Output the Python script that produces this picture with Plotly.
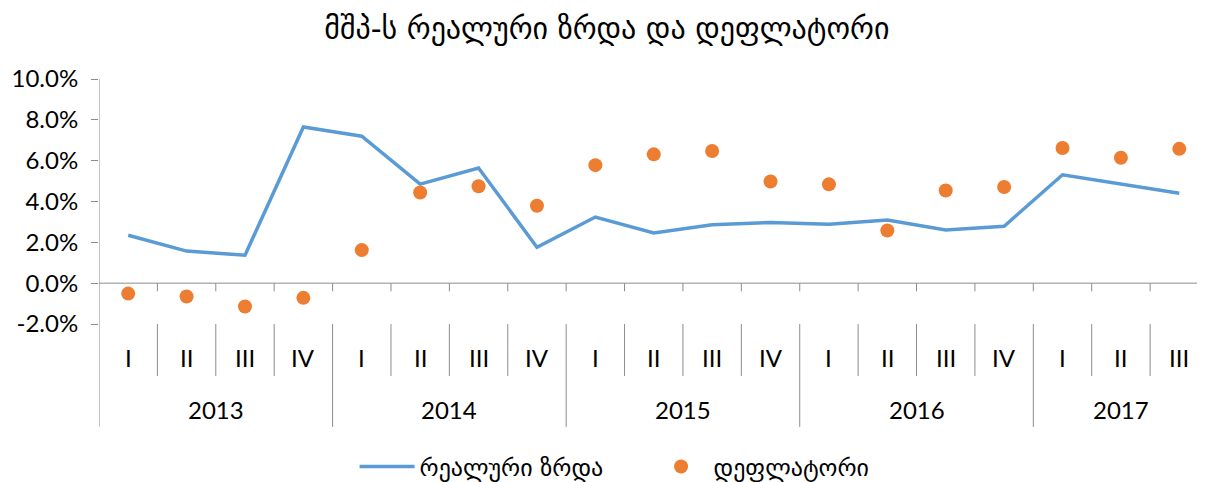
"""
მშპ-ს რეალური ზრდა და დეფლატორი - კვარტალური მონაცემები 2013-2017.
"""
import plotly.graph_objects as go

# კვარტლები და წლები (ორდონიანი კატეგორიის ღერძი)
quarters = ["I", "II", "III", "IV", "I", "II", "III", "IV", "I", "II", "III", "IV",
            "I", "II", "III", "IV", "I", "II", "III"]
years = ["2013", "2014", "2015", "2016", "2017"]
quarters_per_year = [4, 4, 4, 4, 3]

# მნიშვნელობები პროცენტებში
real_growth = [2.35, 1.57, 1.37, 7.65, 7.2, 4.85, 5.64, 1.76, 3.24, 2.46, 2.86,
               2.97, 2.89, 3.09, 2.6, 2.79, 5.31, 4.87, 4.4]
deflator = [-0.51, -0.65, -1.14, -0.72, 1.62, 4.44, 4.75, 3.79, 5.78, 6.31, 6.47,
            4.98, 4.84, 2.58, 4.54, 4.71, 6.62, 6.14, 6.58]

y_ticks = [-2, 0, 2, 4, 6, 8, 10]

LATIN = "Lato, 'DejaVu Sans', sans-serif"
GEO = "'DejaVu Sans', sans-serif"
AXIS_GRAY = "#8c8c8c"

x_pos = list(range(len(quarters)))

fig = go.Figure()

fig.add_trace(go.Scatter(
    x=x_pos, y=real_growth,
    mode="lines",
    name="რეალური ზრდა",
    line=dict(color="#5B9BD5", width=3.5),
))

fig.add_trace(go.Scatter(
    x=x_pos, y=deflator,
    mode="markers",
    name="დეფლატორი",
    marker=dict(color="#ED7D31", size=14),
))

# ღერძის ხაზები და გამყოფები
shapes = []
# y ღერძი (ქვემოთ გრძელდება წლების ზოლამდე)
shapes.append(dict(type="line", xref="x", yref="paper", x0=-0.5, x1=-0.5,
                   y0=1, y1=-0.42, line=dict(color=AXIS_GRAY, width=1)))
# ნულოვანი ხაზი
shapes.append(dict(type="line", xref="paper", yref="y", x0=0, x1=1,
                   y0=0, y1=0, line=dict(color=AXIS_GRAY, width=1)))

# დანაყოფები კატეგორიების საზღვრებზე
year_bounds = []
acc = -0.5
for n in quarters_per_year[:-1]:
    acc += n
    year_bounds.append(acc)

for i in range(len(quarters)):
    b = i + 0.5
    if b > len(quarters) - 1:
        break
    # პატარა დანაყოფი ნულოვან ხაზზე
    shapes.append(dict(type="line", xref="x", yref="y", x0=b, x1=b,
                       y0=0, y1=-0.4, line=dict(color=AXIS_GRAY, width=1)))
    bottom = -0.42 if b in year_bounds else -0.212
    shapes.append(dict(type="line", xref="x", yref="paper", x0=b, x1=b,
                       y0=0, y1=bottom, line=dict(color=AXIS_GRAY, width=1)))

# კატეგორიების წარწერები
annotations = []
for i, q in enumerate(quarters):
    annotations.append(dict(x=i, y=-0.135, xref="x", yref="paper", text=q,
                            yanchor="middle", showarrow=False,
                            font=dict(family=LATIN, size=24, color="#000000")))

start = 0
for yr, n in zip(years, quarters_per_year):
    center = start + (n - 1) / 2
    annotations.append(dict(x=center, y=-0.351, xref="x", yref="paper", text=yr,
                            yanchor="middle", showarrow=False,
                            font=dict(family=LATIN, size=24, color="#000000")))
    start += n

# გვერდს აქვს 8px ზღვარი, ამიტომ ყველაფერი 8px-ით არის გადაწეული
fig.update_layout(
    title=dict(text="მშპ-ს რეალური ზრდა და დეფლატორი", x=0.497, xanchor="center",
               y=0.9585, yanchor="middle",
               font=dict(family=GEO, size=30, color="#000000")),
    width=1205, height=482,
    margin=dict(l=91, r=8, t=71, b=166, autoexpand=False),
    plot_bgcolor="white",
    paper_bgcolor="white",
    xaxis=dict(range=[-0.5, 18.44], showticklabels=False, showgrid=False,
               zeroline=False, showline=False, ticks="", automargin=False),
    yaxis=dict(range=[-2, 10], tickvals=y_ticks,
               ticktext=[f"{v:.1f}%" for v in y_ticks],
               showgrid=False, zeroline=False, showline=False, automargin=False,
               ticks="outside", ticklen=7, tickcolor=AXIS_GRAY, ticklabelstandoff=8,
               tickfont=dict(family=LATIN, size=24, color="#000000")),
    shapes=shapes,
    annotations=annotations,
    showlegend=True,
    legend=dict(orientation="h", xref="container", yref="container",
                x=0.2876, xanchor="left", y=0.048, yanchor="middle",
                font=dict(family=GEO, size=24, color="#000000"),
                entrywidth=224, itemwidth=55),
)

fig.write_html("out.html")
